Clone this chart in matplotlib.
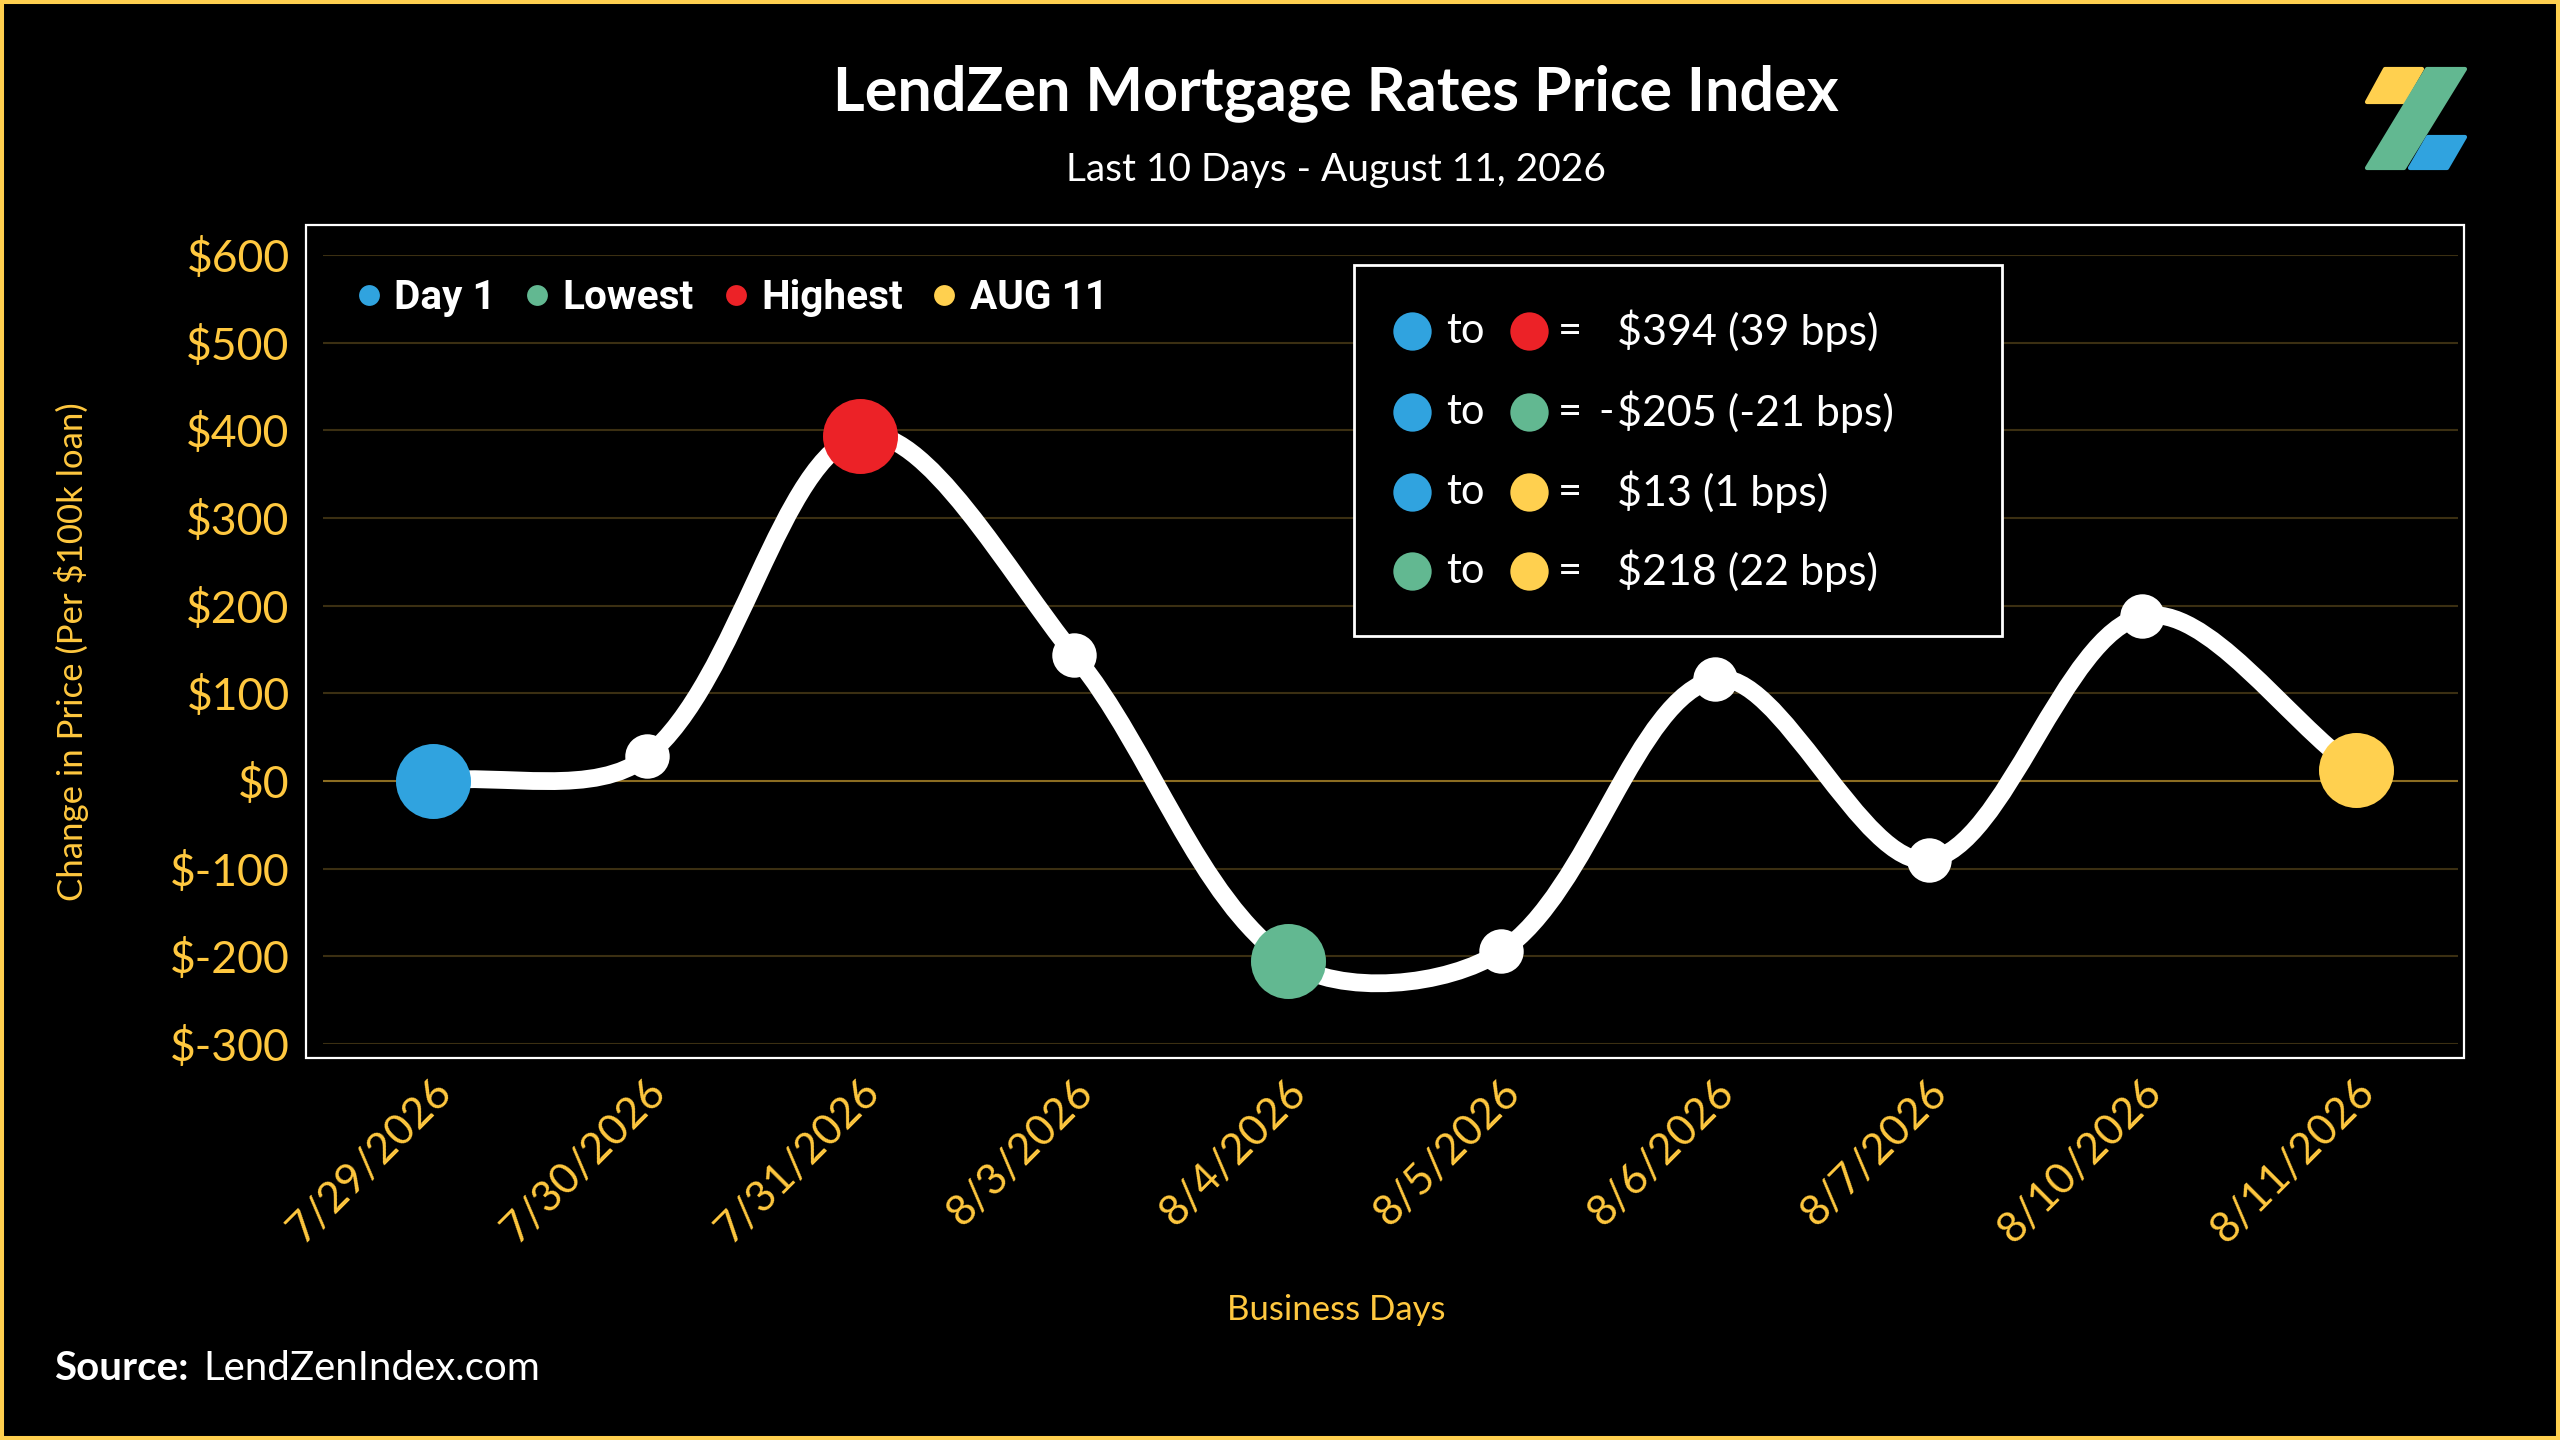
import numpy as np
import matplotlib
matplotlib.use("Agg")
import matplotlib.pyplot as plt
from matplotlib.path import Path
from matplotlib.patches import PathPatch, Rectangle, Polygon
from matplotlib.lines import Line2D
import matplotlib.transforms as mtransforms

plt.rcParams['text.parse_math'] = False
plt.rcParams['font.family'] = ['Lato', 'DejaVu Sans']

# data
dates = ['7/29/2026', '7/30/2026', '7/31/2026', '8/3/2026', '8/4/2026',
         '8/5/2026', '8/6/2026', '8/7/2026', '8/10/2026', '8/11/2026']
change = [0, 28, 394, 144, -205, -194, 116, -90, 188, 13]
yticks = [-300, -200, -100, 0, 100, 200, 300, 400, 500, 600]

BLUE = '#30a3df'
RED = '#ec2227'
GREEN = '#62b891'
YELLOW = '#ffd04f'
GOLD = '#ffc83f'
W, H = 2560, 1440


def fx(x):
    return x / W


def fy(y):
    return 1 - y / H


fig = plt.figure(figsize=(12.8, 7.2), dpi=200, facecolor='black')
ax = fig.add_axes([fx(323), fy(1044), fx(2458) - fx(323), fy(255) - fy(1044)])
ax.set_facecolor('black')
ax.set_xlim(-0.515, 9.477)
ax.set_ylim(-300, 600)

x = np.arange(len(change))
y = np.array(change, dtype=float)
n = len(x)

# smoothed line, excel style bezier built in screen space
pts = ax.transData.transform(np.column_stack([x, y]))
d = np.hypot(*np.diff(pts, axis=0).T)
verts = [tuple(pts[0])]
codes = [Path.MOVETO]
for i in range(n - 1):
    p0 = pts[max(i - 1, 0)]
    p1 = pts[i]
    p2 = pts[i + 1]
    p3 = pts[min(i + 2, n - 1)]
    da = d[i - 1] if i > 0 else 0.0
    db = d[i + 1] if i < n - 2 else 0.0
    c1 = p1 + (p2 - p0) / 3 * d[i] / (da + d[i])
    c2 = p2 - (p3 - p1) / 3 * d[i] / (d[i] + db)
    verts += [tuple(c1), tuple(c2), tuple(p2)]
    codes += [Path.CURVE4] * 3
verts = ax.transData.inverted().transform(np.array(verts))
ax.add_patch(PathPatch(Path(verts, codes), facecolor='none', edgecolor='white',
                       lw=6.4, capstyle='round', zorder=3))

i_lo = int(np.argmin(y))
i_hi = int(np.argmax(y))
special = {0: BLUE, i_lo: GREEN, i_hi: RED, n - 1: YELLOW}
for i in range(n):
    if i in special:
        ax.plot(x[i], y[i], 'o', ms=27, color=special[i], mec='none', zorder=5)
    else:
        ax.plot(x[i], y[i], 'o', ms=16, color='white', mec='none', zorder=4)

# grid
for t in yticks:
    ax.axhline(t, color='#8c6d22' if t == 0 else '#3b2f12', lw=0.75, zorder=1)

ax.set_yticks(yticks)
ax.set_yticklabels(['$' + str(t) for t in yticks])
ax.set_xticks(x)
ax.set_xticklabels(dates, rotation=45, ha='right', va='top')
ax.tick_params(axis='both', length=0, colors=GOLD, labelsize=16)
ax.tick_params(axis='x', labelsize=15.5, pad=10)
ax.tick_params(axis='y', pad=12)
off = mtransforms.ScaledTranslation(26 / 200, 0, fig.dpi_scale_trans)
for lab in ax.get_xticklabels():
    lab.set_transform(lab.get_transform() + off)
for s in ax.spines.values():
    s.set_visible(False)

# frame around plot
fig.patches.append(Rectangle((fx(306), fy(1058)), fx(2464) - fx(306), fy(225) - fy(1058),
                             transform=fig.transFigure, fill=False, ec='white', lw=0.8))

# legend
handles = [Line2D([], [], ls='none', marker='o', ms=7.5, color=c, mec='none')
           for c in [BLUE, GREEN, RED, YELLOW]]
leg = ax.legend(handles, ['Day 1', 'Lowest', 'Highest', 'AUG 11'], ncol=4,
                loc='center left', bbox_to_anchor=(fx(313), fy(298)),
                bbox_transform=fig.transFigure, frameon=False,
                handletextpad=0.15, columnspacing=0.55, handlelength=0.95,
                prop={'family': ['Roboto', 'DejaVu Sans'], 'weight': 'bold', 'size': 14.6})
for t in leg.get_texts():
    t.set_color('white')

# stats box
fig.patches.append(Rectangle((fx(1354), fy(636)), fx(2002) - fx(1354), fy(265) - fy(636),
                             transform=fig.transFigure, fill=True, fc='black',
                             ec='white', lw=1.0, zorder=6))


def fmt(v):
    bps = int(np.sign(v) * np.floor(abs(v) / 10 + 0.5))
    s = '$' + str(int(abs(v))) + ' (' + str(bps) + ' bps)'
    return ('-' if v < 0 else '') + s


pairs = [(0, i_hi), (0, i_lo), (0, n - 1), (i_lo, n - 1)]
row_y = [331, 412, 492, 571]
for (a, b), ry in zip(pairs, row_y):
    for i, cx in ((a, 1412), (b, 1529)):
        fig.add_artist(Line2D([fx(cx)], [fy(ry)], ls='none', marker='o', ms=13.8,
                              color=special[i], mec='none', transform=fig.transFigure, zorder=7))
    fig.text(fx(1446), fy(ry), 'to', color='white', fontsize=15, ha='left', va='center', zorder=7)
    fig.text(fx(1558), fy(ry), '=', color='white', fontsize=15, ha='left', va='center', zorder=7)
    v = y[b] - y[a]
    txt = fmt(v)
    if v < 0:
        fig.text(fx(1614), fy(ry), '-', color='white', fontsize=15, ha='right', va='center', zorder=7)
        txt = txt[1:]
    fig.text(fx(1617), fy(ry), txt, color='white', fontsize=15.5, ha='left', va='center', zorder=7)

# titles
fig.text(fx(1336), fy(93), 'LendZen Mortgage Rates Price Index', color='white',
         fontsize=22, fontweight='bold', ha='center', va='center')
fig.text(fx(1336), fy(170), 'Last 10 Days - August 11, 2026', color='white',
         fontsize=14, ha='center', va='center')
fig.text(fx(72), fy(652), 'Change in Price (Per $100k loan)', color=GOLD, fontsize=12.5,
         rotation=90, ha='center', va='center')
fig.text(fx(1336), fy(1310), 'Business Days', color=GOLD, fontsize=12.5,
         ha='center', va='center')
fig.text(fx(54), fy(1368), 'Source:', color='white', fontsize=14.5, fontweight='bold',
         ha='left', va='center')
fig.text(fx(203), fy(1368), 'LendZenIndex.com', color='white', fontsize=14.5,
         ha='left', va='center')

# logo
logo = [
    ([(2385, 69), (2422, 69), (2403, 102), (2367, 102)], YELLOW),
    ([(2427, 69), (2465, 69), (2404, 168), (2367, 168)], GREEN),
    ([(2428, 137), (2465, 137), (2447, 168), (2410, 168)], BLUE),
]
for pts_, c in logo:
    fig.patches.append(Polygon([(fx(a), fy(b)) for a, b in pts_], closed=True,
                               transform=fig.transFigure, fc=c, ec=c, lw=1.5,
                               joinstyle='round'))

# outer border
fig.patches.append(Rectangle((0, 0), 1, 1, transform=fig.transFigure, fill=False,
                             ec='#ffd04f', lw=2.9))

fig.savefig('out.png', dpi=200, facecolor='black')
